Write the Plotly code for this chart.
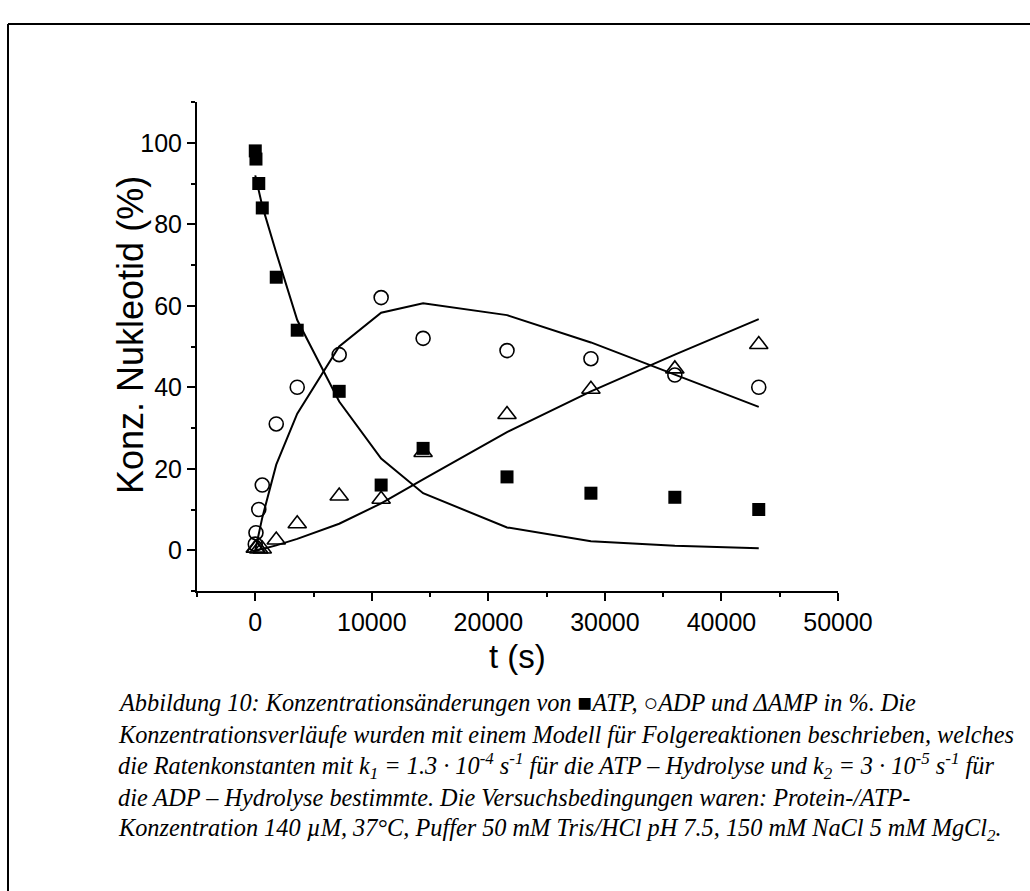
import plotly.graph_objects as go

# ---- data ----
t_data = [0, 60, 300, 600, 1800, 3600, 7200, 10800, 14400, 21600, 28800, 36000, 43200]
atp = [98, 96, 90, 84, 67, 54, 39, 16, 25, 18, 14, 13, 10]
adp = [1.5, 4.3, 10, 16, 31, 40, 48, 62, 52, 49, 47, 43, 40]
amp = [0.5, 0.5, 0.3, 0.3, 2.5, 6.5, 13.3, 12.5, 24, 33.3, 39.5, 44.5, 50.5]

t_fit = [0, 300, 600, 1800, 3600, 7200, 10800, 14400, 21600, 28800, 36000, 43200]
atp_fit = [92, 88.5, 84.5, 73, 56.5, 36.5, 22.5, 14, 5.6, 2.2, 1.1, 0.5]
adp_fit = [0, 4, 8, 21, 33.5, 50, 58.3, 60.6, 57.7, 51, 43, 35.2]
amp_fit = [0, 0.1, 0.3, 1.2, 2.8, 6.5, 11.5, 17.4, 29, 39, 48, 56.7]

x_title = "t (s)"
y_title = "Konz. Nukleotid (%)"
caption_lines = [
    "Abbildung 10: Konzentrationsänderungen von ■ATP, ○ADP und ΔAMP in %. Die",
    "Konzentrationsverläufe wurden mit einem Modell für Folgereaktionen beschrieben, welches",
    "die Ratenkonstanten mit k<sub>1</sub> = 1.3 · 10<sup>-4</sup> s<sup>-1</sup> für die ATP – Hydrolyse und k<sub>2</sub> = 3 · 10<sup>-5</sup> s<sup>-1</sup> für",
    "die ADP – Hydrolyse bestimmte. Die Versuchsbedingungen waren: Protein-/ATP-",
    "Konzentration 140 µM, 37°C, Puffer 50 mM Tris/HCl pH 7.5, 150 mM NaCl 5 mM MgCl<sub>2</sub>.",
]

# ---- layout geometry (pixels) ----
W, H = 1030, 891
L, R, T, B = 197, 838, 102, 591
pw, ph = R - L, B - T


def px(x):
    return (x - L) / pw


def py(y):
    return (B - y) / ph


fig = go.Figure()

line_style = dict(color="black", width=2)
for yv in (atp_fit, adp_fit, amp_fit):
    fig.add_trace(go.Scatter(x=t_fit, y=yv, mode="lines", line=line_style,
                             showlegend=False, hoverinfo="skip"))

fig.add_trace(go.Scatter(x=t_data, y=atp, mode="markers", showlegend=False,
                         marker=dict(symbol="square", size=13, color="black",
                                     line=dict(width=0))))
fig.add_trace(go.Scatter(x=t_data, y=adp, mode="markers", showlegend=False,
                         marker=dict(symbol="circle-open", size=14, color="black",
                                     line=dict(width=1.6, color="black"))))
fig.add_trace(go.Scatter(x=t_data, y=amp, mode="markers", showlegend=False,
                         marker=dict(symbol="triangle-up-open", size=16, color="black",
                                     line=dict(width=1.6, color="black"))))

sans = "Liberation Sans, Arial, sans-serif"
axis_font = dict(family=sans, size=25, color="black")

fig.update_xaxes(
    range=[-5000, 50000], tick0=0, dtick=10000, tickformat="d",
    ticks="outside", ticklen=8, tickwidth=1.5, tickcolor="black",
    minor=dict(dtick=5000, tick0=0, ticks="outside", ticklen=4, tickwidth=1.5, tickcolor="black"),
    showline=True, linecolor="black", linewidth=2, showgrid=False, zeroline=False,
    tickfont=axis_font,
)
fig.update_yaxes(
    range=[-10, 110], tick0=0, dtick=20,
    ticks="outside", ticklen=8, tickwidth=1.5, tickcolor="black",
    minor=dict(dtick=10, tick0=0, ticks="outside", ticklen=4, tickwidth=1.5, tickcolor="black"),
    showline=True, linecolor="black", linewidth=2, showgrid=False, zeroline=False,
    tickfont=axis_font,
)

# frame lines (top and left) of the cropped figure box
shapes = [
    dict(type="line", xref="paper", yref="paper", x0=px(8), x1=px(1040), y0=py(24), y1=py(24),
         line=dict(color="black", width=2)),
    dict(type="line", xref="paper", yref="paper", x0=px(8), x1=px(8), y0=py(24), y1=py(900),
         line=dict(color="black", width=2)),
]

annotations = [
    dict(text=x_title, xref="paper", yref="paper", x=px(517), y=py(656),
         xanchor="center", yanchor="middle", showarrow=False,
         font=dict(family=sans, size=33, color="black")),
    dict(text=y_title, xref="paper", yref="paper", x=px(130), y=py(335),
         xanchor="center", yanchor="middle", showarrow=False, textangle=-90,
         font=dict(family=sans, size=36, color="black")),
]
cap_y = [702, 734, 766, 797, 829]
for txt, yy in zip(caption_lines, cap_y):
    annotations.append(dict(
        text="<i>" + txt + "</i>", xref="paper", yref="paper", x=px(116), y=py(yy),
        xanchor="left", yanchor="middle", showarrow=False, align="left",
        font=dict(family="Liberation Serif, Times New Roman, serif", size=24.3, color="black"),
    ))

fig.update_layout(
    width=W, height=H, autosize=False,
    margin=dict(l=L, r=W - R, t=T, b=H - B),
    paper_bgcolor="white", plot_bgcolor="white",
    shapes=shapes, annotations=annotations,
)

fig.write_html("out.html")
